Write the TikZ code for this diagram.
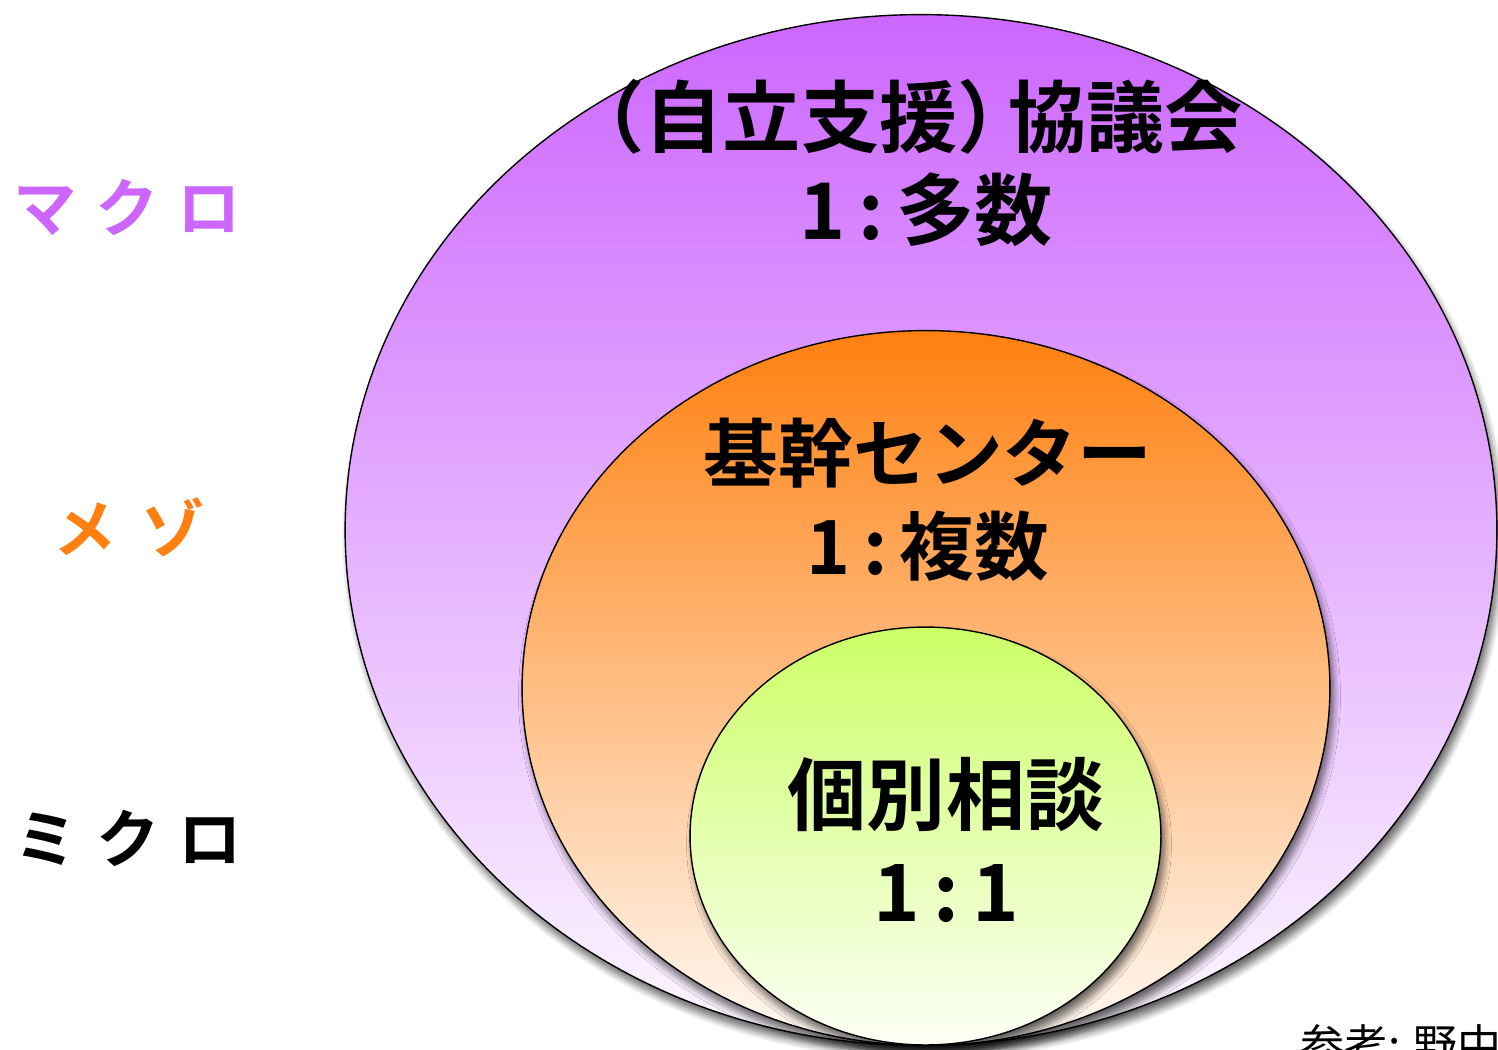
\documentclass[tikz,border=0pt]{standalone}
\usepackage{fontspec}
\setmainfont{Noto Sans CJK JP}[BoldFont={* Bold}]
\usetikzlibrary{shapes.geometric,shadows,shadows.blur,positioning}
\definecolor{macro}{RGB}{204,102,255}
\definecolor{meso}{RGB}{255,128,16}
\definecolor{micro}{RGB}{204,255,102}

\begin{document}
\begin{tikzpicture}[x=0.02cm, y=-0.02cm,
  layer/.style={ellipse, draw=black, line width=0.8pt, inner sep=0pt, shading=axis,
    blur shadow={shadow xshift=0.7mm, shadow yshift=-1.6mm, shadow opacity=60,
      shadow blur radius=1.4mm, shadow blur steps=8}},
  title/.style={font=\bfseries\fontsize{43}{53}\selectfont, align=center},
  level/.style={font=\bfseries\fontsize{36}{40}\selectfont}]
\useasboundingbox (0,0) rectangle (1498,1049);

% ----------------- Circles -----------------
\node (kyogikai) [layer, minimum width=23.04cm, minimum height=20.62cm,
  top color=macro, bottom color=macro!4] at (921,530) {};
\node (center) [layer, minimum width=16.16cm, minimum height=14.3cm,
  top color=meso, bottom color=meso!4] at (926,688) {};
\node (soudan) [layer, minimum width=9.42cm, minimum height=8.36cm,
  top color=micro, bottom color=micro!6] at (925.5,836) {};

% ----------------- Texts -----------------
\node (t1) [title, font=\bfseries\fontsize{44.5}{53}\selectfont] at (934,163)
  {\hspace*{-.75em}（自立支援）\hspace{-.35em}協議会\\\hspace*{-.2em}1\,:\,多数};
\node (t2) [title, font=\bfseries\fontsize{42.5}{53}\selectfont] at (928,500) {基幹センター\\1\,:\,複数};
\node (t3) [title, font=\bfseries\fontsize{45}{55}\selectfont] at (946,840) {個別相談\\1\,:\,1};

% ----------------- Levels -----------------
\node (macro) [level, text=macro] at (127,207) {マ\hspace{.3em}ク\hspace{.3em}ロ};
\node (meso) [level, text=meso] at (129,527) {メ\hspace{.4em}ゾ};
\node (micro) [level] at (128,838) {ミ\hspace{.3em}ク\hspace{.3em}ロ};

\node (ref) [anchor=north west, font=\fontsize{25}{28}\selectfont, inner sep=0pt] at (1300,1024) {参考:\hspace{.3em}野中};
\end{tikzpicture}
\end{document}
